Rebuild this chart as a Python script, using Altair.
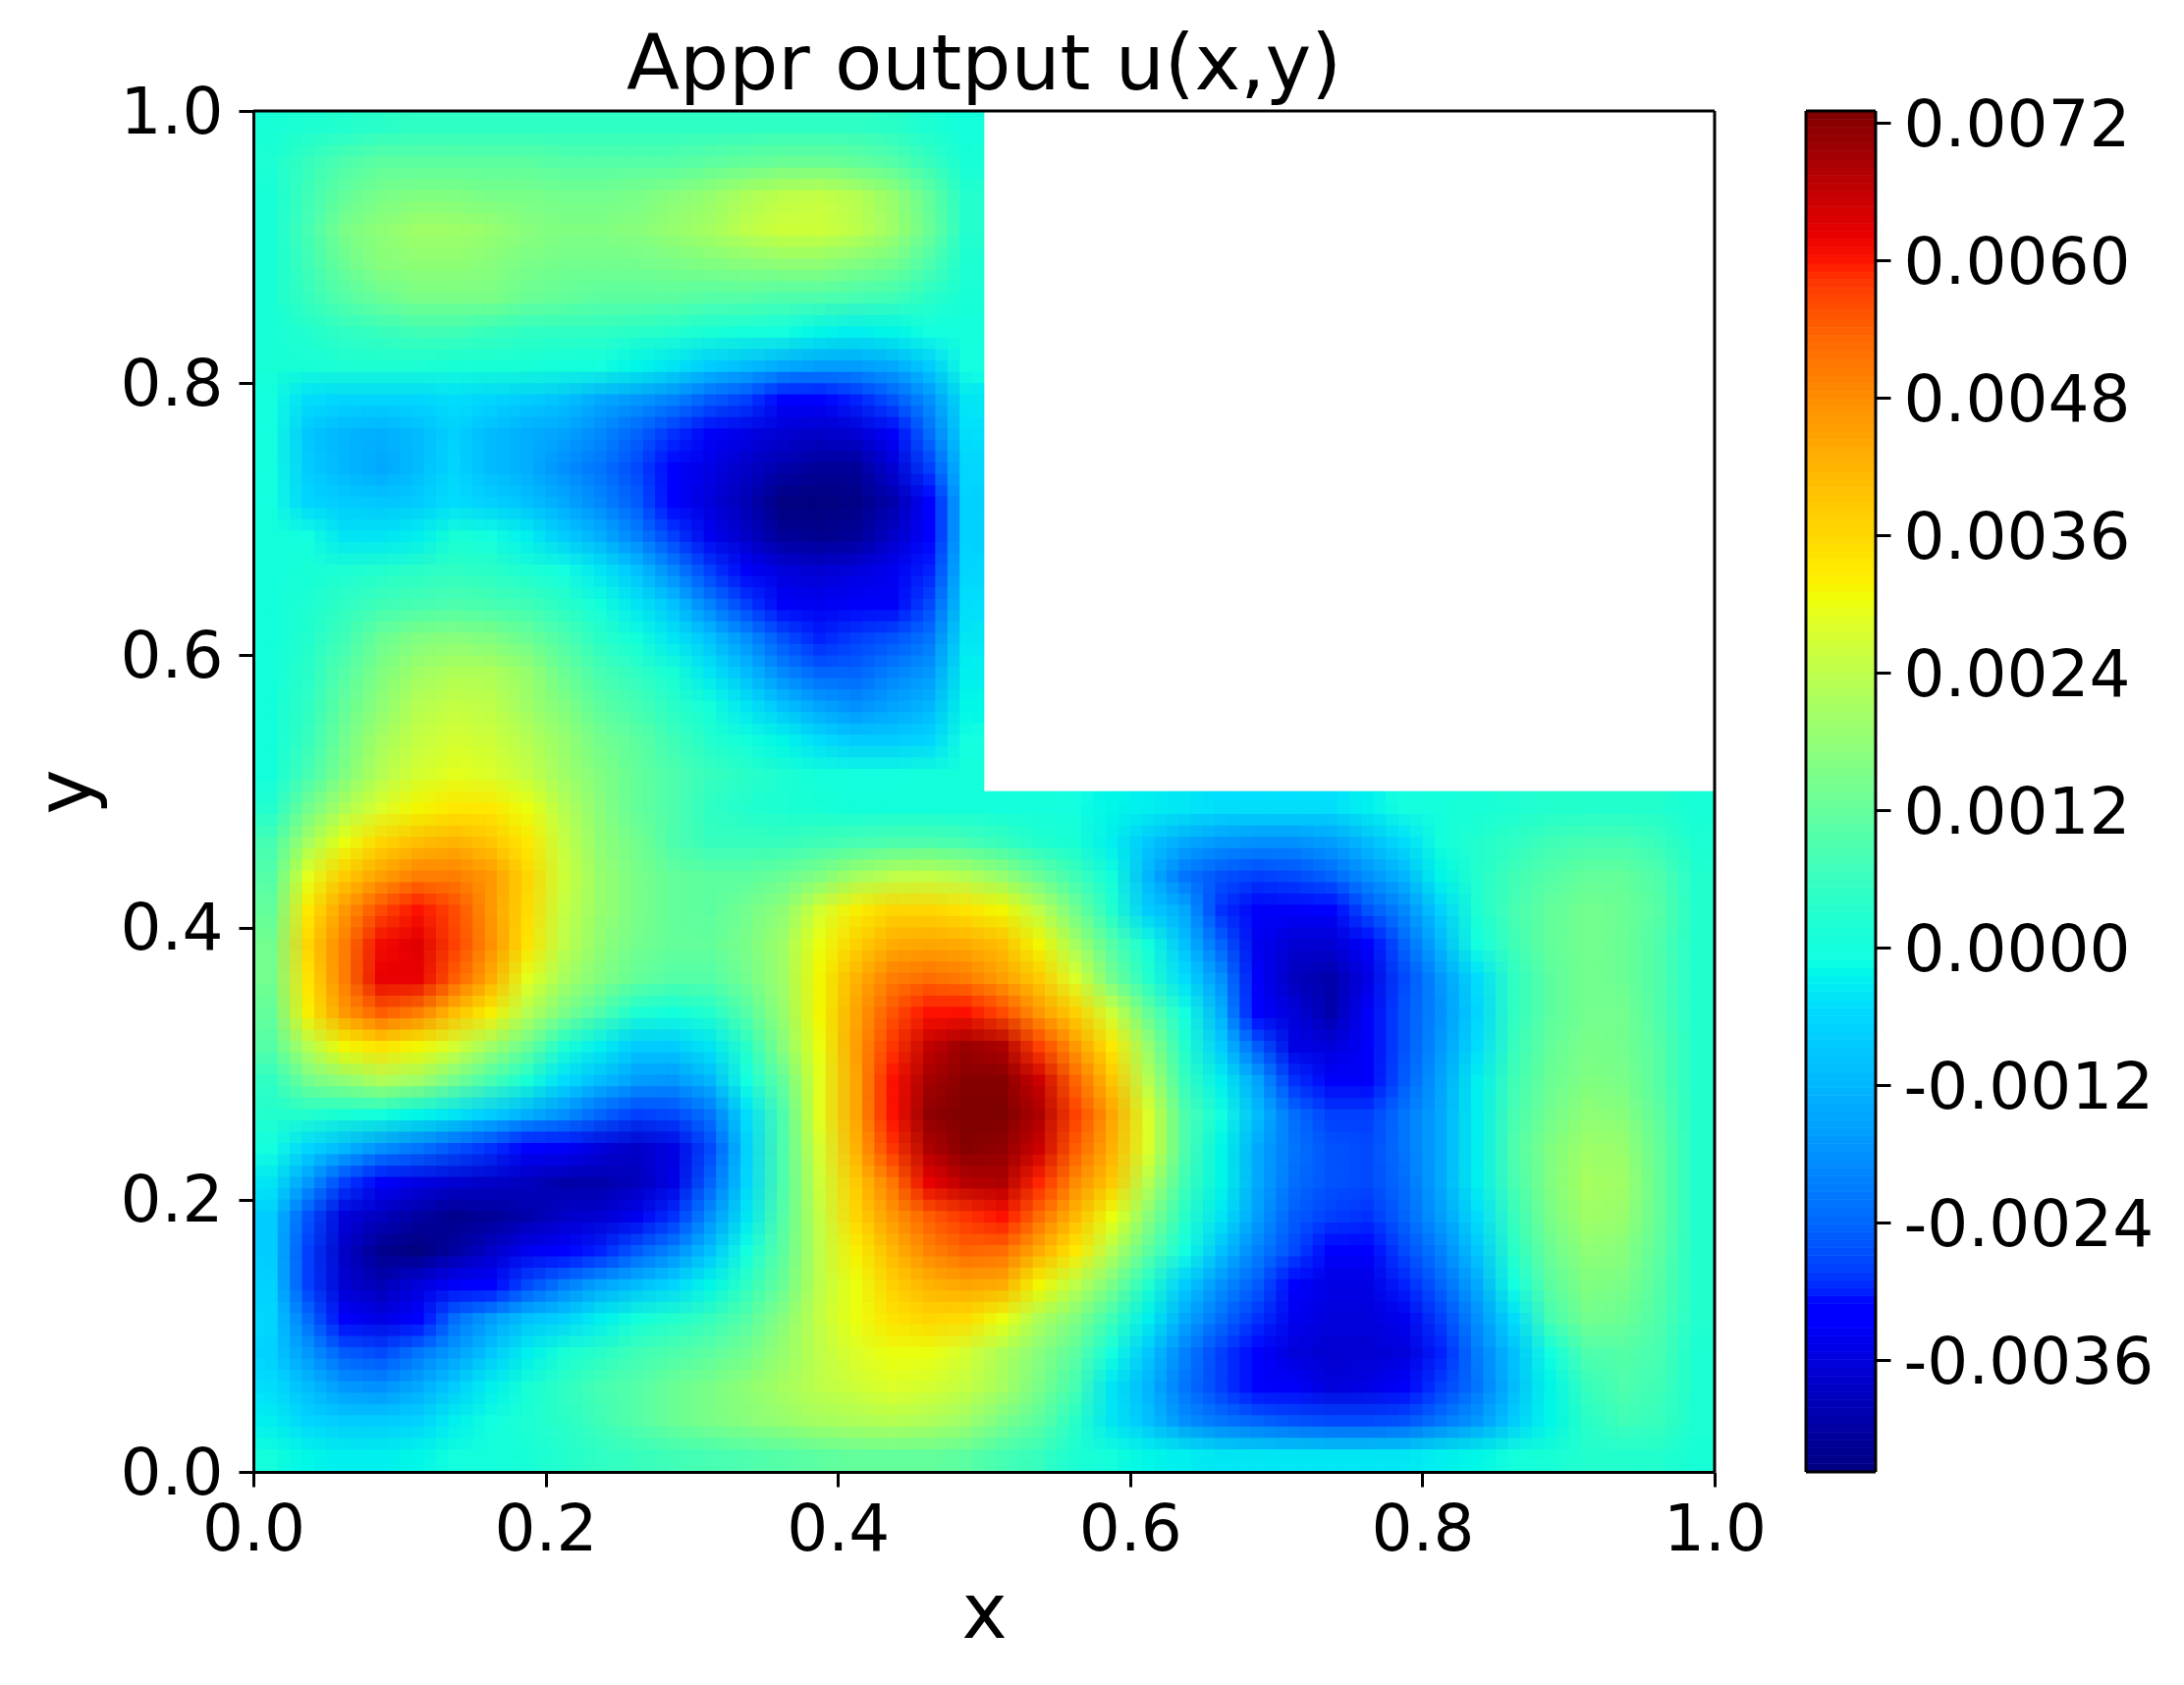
import altair as alt
import pandas as pd

# u(x,y) in units of 1e-4. Rows run from y=0.9875 down in steps of 0.025.
UPPER_ROWS = [
    [1,2,3,4,5,5,5,5,5,5,5,5,5,5,5,5,5,4,2,0],
    [2,6,9,11,11,11,11,11,10,10,10,10,11,12,13,13,12,10,6,1],
    [1,7,12,15,16,16,15,15,14,14,15,17,19,22,24,25,23,19,12,3],
    [1,8,15,18,20,20,19,17,16,16,17,19,21,24,26,26,24,20,13,3],
    [1,7,13,17,18,18,17,15,14,14,14,15,16,17,18,18,16,14,9,2],
    [1,6,10,13,15,15,15,13,12,11,11,11,10,10,9,9,8,7,4,1],
    [1,3,5,6,7,7,6,5,5,5,4,3,1,0,-1,-2,-3,-2,-1,0],
    [1,1,2,2,2,1,1,1,0,-1,-2,-4,-8,-11,-14,-16,-16,-14,-8,-1],
    [-1,-5,-6,-6,-6,-5,-6,-8,-10,-14,-17,-20,-25,-28,-31,-32,-30,-26,-18,-4],
    [-1,-9,-12,-13,-11,-7,-11,-13,-15,-19,-24,-29,-33,-35,-37,-38,-37,-33,-23,-5],
    [-1,-8,-12,-14,-11,-6,-11,-13,-18,-22,-27,-31,-35,-38,-41,-43,-43,-37,-28,-6],
    [-1,-6,-8,-9,-8,-5,-7,-10,-14,-19,-25,-32,-36,-40,-46,-46,-45,-41,-32,-7],
    [0,-1,-4,-4,-3,1,-1,-3,-8,-13,-20,-28,-34,-38,-43,-44,-43,-38,-32,-7],
    [0,1,2,3,4,5,4,2,-1,-4,-10,-19,-28,-33,-36,-37,-36,-34,-30,-6],
    [0,2,5,7,8,9,8,7,4,0,-4,-10,-20,-28,-33,-34,-33,-33,-27,-5],
    [0,3,7,13,16,17,16,13,9,4,0,-4,-10,-18,-26,-30,-28,-26,-22,-4],
    [0,4,10,16,20,22,22,19,13,8,5,1,-4,-11,-19,-24,-24,-20,-17,-3],
    [0,5,12,18,23,25,24,20,16,11,8,4,0,-4,-10,-15,-18,-15,-12,-2],
    [0,6,14,21,25,27,26,23,19,14,11,7,3,0,-2,-5,-8,-8,-6,-1],
    [0,8,16,23,27,29,28,25,20,16,12,9,6,4,2,0,-1,-1,0,0],
]
# Rows from y=0.4875 down to y=0.0125, all forty columns.
LOWER_ROWS = [
    [3,14,22,28,31,33,33,30,23,17,12,9,5,3,2,1,0,0,0,0, 0,0,-1,-2,-3,-4,-5,-5,-5,-5,-3,-1,0,1,2,3,3,3,3,1],
    [8,21,30,36,40,42,39,33,25,18,14,9,6,6,6,7,8,9,9,8, 6,3,1,-3,-9,-14,-17,-18,-18,-16,-11,-5,0,3,5,7,8,8,6,2],
    [10,29,38,45,50,50,46,36,26,19,15,12,11,11,13,16,21,24,25,23, 19,13,7,0,-12,-22,-26,-28,-27,-24,-18,-12,-2,3,7,10,12,12,9,3],
    [12,33,46,56,60,56,46,35,25,19,15,12,11,14,18,27,32,36,36,34, 31,24,14,3,-8,-14,-29,-33,-33,-31,-26,-19,-7,2,8,12,14,13,10,3],
    [14,36,50,61,63,57,47,34,24,18,14,12,12,15,20,30,37,43,44,43, 40,31,21,10,0,-10,-24,-34,-37,-37,-31,-24,-12,-1,7,12,14,13,9,3],
    [14,34,50,62,62,54,43,29,21,16,12,10,10,14,20,31,42,50,52,50, 45,38,28,14,3,-5,-18,-33,-39,-41,-35,-27,-17,-5,5,11,14,13,9,3],
    [12,32,46,54,50,40,32,23,15,9,2,0,3,10,19,31,44,55,60,60, 56,46,37,26,12,-1,-13,-31,-36,-41,-33,-26,-18,-6,5,11,14,14,9,3],
    [10,23,31,34,31,27,20,13,2,-3,-8,-8,-4,4,17,30,45,58,66,70, 68,57,46,33,19,3,-8,-25,-35,-36,-33,-26,-17,-5,6,12,15,14,10,3],
    [5,14,18,22,20,14,8,1,-5,-11,-16,-17,-12,-1,12,29,44,60,69,72, 72,65,53,39,23,6,-3,-15,-29,-33,-33,-25,-15,-3,7,13,16,15,10,3],
    [3,3,1,0,-2,-4,-8,-13,-18,-24,-28,-27,-22,-5,9,29,44,60,71,73, 73,68,57,44,28,9,-1,-11,-23,-28,-28,-22,-14,-3,8,14,18,17,11,3],
    [-1,-6,-12,-18,-22,-26,-29,-31,-33,-36,-38,-35,-27,-7,9,27,42,58,68,72, 71,65,54,42,28,9,-2,-14,-22,-26,-27,-22,-14,-3,9,16,20,19,12,3],
    [-4,-17,-28,-33,-35,-37,-38,-39,-41,-41,-39,-35,-24,-6,9,26,38,51,62,67, 68,59,48,38,23,7,-2,-14,-23,-26,-27,-23,-14,-3,8,16,21,20,12,3],
    [-8,-26,-36,-39,-42,-44,-43,-41,-38,-37,-34,-29,-18,-4,10,25,36,46,54,58, 60,52,41,30,17,4,-4,-16,-25,-28,-29,-24,-16,-5,6,15,20,19,12,3],
    [-8,-28,-38,-44,-46,-42,-38,-34,-32,-30,-25,-19,-10,-1,11,24,32,41,49,53, 52,43,33,23,11,-1,-10,-20,-27,-31,-31,-27,-20,-9,4,13,18,17,11,3],
    [-7,-28,-37,-40,-36,-33,-31,-27,-21,-15,-11,-6,-2,5,13,24,30,37,42,44, 43,31,24,15,3,-8,-18,-25,-31,-35,-35,-30,-24,-14,-1,11,16,15,10,3],
    [-6,-23,-33,-35,-31,-23,-16,-10,-7,-3,0,3,6,10,17,25,30,34,36,35, 30,22,16,7,-3,-14,-23,-29,-34,-36,-36,-34,-28,-18,-5,8,14,13,9,3],
    [-7,-17,-25,-27,-22,-16,-9,-3,1,4,7,9,11,14,19,24,28,30,30,27, 22,17,11,-1,-9,-20,-28,-32,-36,-37,-37,-36,-30,-21,-10,-1,9,10,8,2],
    [-5,-11,-17,-18,-14,-8,-3,1,5,8,10,13,15,18,21,24,26,28,27,25, 21,15,8,-4,-12,-22,-28,-31,-33,-36,-35,-33,-28,-22,-11,-2,6,9,7,2],
    [-3,-6,-8,-8,-7,-3,-1,2,4,7,10,13,15,17,19,21,22,23,22,20, 15,11,4,-4,-10,-18,-22,-24,-26,-27,-27,-26,-22,-17,-8,-2,4,7,6,2],
    [0,-2,-3,-3,-2,-1,0,1,3,5,6,7,8,9,10,11,12,12,12,11, 8,6,2,0,-2,-3,-4,-4,-4,-4,-4,-4,-3,-2,0,1,3,3,3,1],
]

AXIS_TICKS = [0.0, 0.2, 0.4, 0.6, 0.8, 1.0]
CBAR_TICKS = [-0.0036, -0.0024, -0.0012, 0.0, 0.0012, 0.0024, 0.0036, 0.0048, 0.0060, 0.0072]
VMIN, VMAX = -0.00458, 0.0073
JET_POS = [0, 0.11, 0.125, 0.34, 0.35, 0.375, 0.64, 0.65, 0.66, 0.89, 0.91, 1]
JET_HEX = ["#000080", "#0000ff", "#0000ff", "#00dbff", "#00e6f7", "#14ffe2",
           "#eeff08", "#f7f500", "#ffec00", "#ff1300", "#e80000", "#800000"]
CELL = 0.025
CBAR_STEPS = 170

records = []
for r, row in enumerate(UPPER_ROWS + LOWER_ROWS):
    top = 1 - r * CELL
    for c, v in enumerate(row):
        records.append({"x0": c * CELL, "x1": (c + 1) * CELL, "y0": top - CELL, "y1": top, "u": v * 1e-4})
cells = pd.DataFrame(records)

cb_h = (VMAX - VMIN) / CBAR_STEPS
cbar = pd.DataFrame([{"v0": VMIN + i * cb_h, "v1": VMIN + (i + 1) * cb_h,
                      "u": VMIN + (i + 0.5) * cb_h} for i in range(CBAR_STEPS)])

color_scale = alt.Scale(domain=[VMIN + p * (VMAX - VMIN) for p in JET_POS], range=JET_HEX, clamp=True)
FONT = "DejaVu Sans"
LAB = 66

def axis(title, vals, **kw):
    return alt.Axis(title=title, values=vals, format=".1f", labelFontSize=LAB, titleFontSize=78,
                    titleFontWeight="normal", labelFont=FONT, titleFont=FONT, tickSize=15, tickWidth=3,
                    tickColor="black", domainColor="black", domainWidth=3, labelColor="black",
                    titleColor="black", grid=False, zindex=1, labelOverlap=False,
                    labelFlush=False, labelLimit=400, **kw)

xs = alt.Scale(domain=[0, 1], nice=False, zero=False)
X_AXIS = axis("x", AXIS_TICKS, labelPadding=12, titlePadding=14)
Y_AXIS = axis("y", AXIS_TICKS, labelPadding=16, titlePadding=14, labelOffset=2)

heat = alt.Chart(cells).mark_rect(strokeWidth=0.7, clip=True).encode(
    x=alt.X("x0:Q", scale=xs, axis=X_AXIS),
    x2="x1:Q",
    y=alt.Y("y0:Q", scale=xs, axis=Y_AXIS),
    y2="y1:Q",
    color=alt.Color("u:Q", scale=color_scale, legend=None),
    stroke=alt.Stroke("u:Q", scale=color_scale, legend=None),
)

def overlay(dx, dy, alpha):
    """The same read-off cells again, a third of a cell aside, to soften the cell edges."""
    t = cells.copy()
    t["x0"] += dx; t["x1"] += dx; t["y0"] += dy; t["y1"] += dy
    t = t[~((t["x1"] > 0.5 + 1e-9) & (t["y1"] > 0.5 + 1e-9))]
    return alt.Chart(t).mark_rect(opacity=alpha, clip=True).encode(
        x=alt.X("x0:Q", scale=xs, axis=X_AXIS), x2="x1:Q",
        y=alt.Y("y0:Q", scale=xs, axis=Y_AXIS), y2="y1:Q",
        color=alt.Color("u:Q", scale=color_scale, legend=None),
    )

s = CELL / 3
offsets = [(i * s, j * s) for i in (-1, 0, 1) for j in (-1, 0, 1)]
soft = [overlay(dx, dy, 1 / (k + 1)) for k, (dx, dy) in enumerate(offsets)]

top_edge = alt.Chart(pd.DataFrame({"y": [1.0]})).mark_rule(color="black", strokeWidth=3).encode(y=alt.Y("y:Q", scale=xs, axis=Y_AXIS))
right_edge = alt.Chart(pd.DataFrame({"x": [1.0]})).mark_rule(color="black", strokeWidth=3).encode(x=alt.X("x:Q", scale=xs, axis=X_AXIS))

left = alt.layer(heat, *soft, top_edge, right_edge).properties(
    width=1488, height=1386,
    title=alt.TitleParams("Appr output u(x,y)", fontSize=79, font=FONT, fontWeight="normal",
                          color="black", anchor="middle", offset=-26),
)

cs = alt.Scale(domain=[VMIN, VMAX], nice=False, zero=False)
bar = alt.Chart(cbar).mark_rect(strokeWidth=0.7).encode(
    x=alt.value(0), x2=alt.value(71),
    y=alt.Y("v0:Q", scale=cs, axis=alt.Axis(
        title=None, orient="right", values=CBAR_TICKS, labelFontSize=LAB, labelFont=FONT, labelColor="black",
        labelExpr="(datum.value < -1e-9 ? '-' : '') + format(abs(datum.value), '.4f')",
        tickSize=15, tickWidth=3, tickColor="black", domain=False, grid=False, labelPadding=13,
        labelOverlap=False, labelFlush=False, labelLimit=400, labelOffset=4, zindex=1)),
    y2="v1:Q",
    color=alt.Color("u:Q", scale=color_scale, legend=None),
    stroke=alt.Stroke("u:Q", scale=color_scale, legend=None),
)
frame_h = alt.Chart(pd.DataFrame({"y": [VMIN, VMAX]})).mark_rule(color="black", strokeWidth=3).encode(
    y=alt.Y("y:Q", scale=cs), x=alt.value(0), x2=alt.value(71))
frame_v = alt.Chart(pd.DataFrame({"x": [0, 71]})).mark_rule(color="black", strokeWidth=3).encode(
    x=alt.X("x:Q", scale=alt.Scale(domain=[0, 71], nice=False, zero=False), axis=None), y=alt.value(0), y2=alt.value(1386))
right = alt.layer(bar, frame_h, frame_v).resolve_scale(x="independent").properties(width=71, height=1386)

chart = alt.hconcat(left, right, spacing=38).resolve_scale(color="independent", stroke="independent", x="independent", y="independent").properties(
    padding={"left": 22, "top": 20, "right": 0, "bottom": 10}, background="white"
).configure_view(stroke=None)

chart.save("out.html", embed_options={"renderer": "svg", "actions": False})
